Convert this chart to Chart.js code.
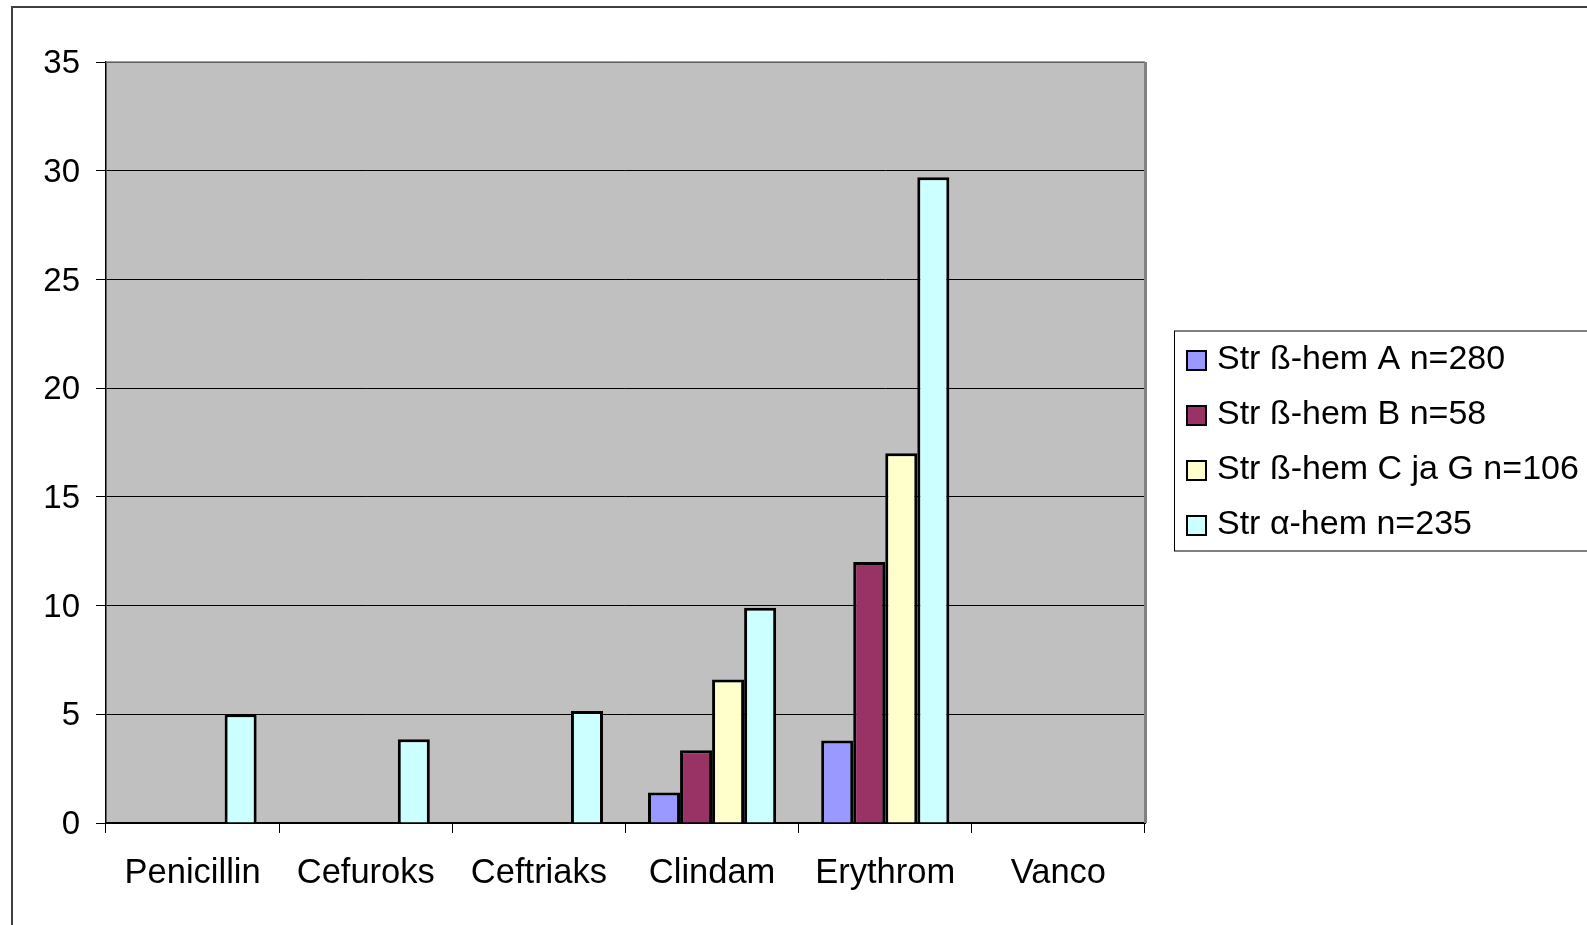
<!DOCTYPE html>
<html>
<head>
<meta charset="utf-8">
<script src="https://cdn.jsdelivr.net/npm/chart.js@4/dist/chart.umd.min.js"></script>
<style>
  html, body { margin: 0; padding: 0; background: #fff; }
  #wrap { width: 1587px; height: 925px; }
</style>
</head>
<body>
<div id="wrap"><canvas id="resChart" width="1587" height="925"></canvas></div>
<script>
var categories = ["Penicillin", "Cefuroks", "Ceftriaks", "Clindam", "Erythrom", "Vanco"];
var seriesNames = ["Str ß-hem A n=280", "Str ß-hem B n=58", "Str ß-hem C ja G n=106", "Str α-hem n=235"];
var groupA = [0, 0, 0, 1.4, 3.8, 0];
var groupB = [0, 0, 0, 3.35, 12.0, 0];
var groupCG = [0, 0, 0, 6.6, 17.0, 0];
var alphaHem = [5.0, 3.85, 5.15, 9.9, 29.7, 0];
var yTicks = [0, 5, 10, 15, 20, 25, 30, 35];
var colors = ["#9999FF", "#993366", "#FFFFCC", "#CCFFFF"];

var fontFam = "'Liberation Sans', Arial, sans-serif";

// grey plot background + outer frame
var backdrop = {
    id: 'backdrop',
    beforeDraw: function (chart) {
        var ctx = chart.ctx, a = chart.chartArea;
        ctx.save();
        ctx.strokeStyle = '#404040';
        ctx.lineWidth = 2;
        ctx.strokeRect(12, 7, 1700, 1000);
        ctx.fillStyle = '#C0C0C0';
        ctx.fillRect(a.left, a.top, a.right - a.left, a.bottom - a.top);
        ctx.restore();
    },
    afterDatasetsDraw: function (chart) {
        var ctx = chart.ctx, a = chart.chartArea;
        ctx.save();
        ctx.strokeStyle = '#808080';
        ctx.lineWidth = 1.5;
        ctx.beginPath();
        ctx.moveTo(a.left, a.top);
        ctx.lineTo(a.right, a.top);
        ctx.stroke();
        ctx.lineWidth = 3;
        ctx.beginPath();
        ctx.moveTo(a.right + 0.5, a.top);
        ctx.lineTo(a.right + 0.5, a.bottom);
        ctx.stroke();
        ctx.restore();
    }
};

// legend in a box, right of the plot
var boxedLegend = {
    id: 'boxedLegend',
    afterDraw: function (chart) {
        var ctx = chart.ctx, a = chart.chartArea;
        var ds = chart.data.datasets;
        var step = 55;
        var cy = (a.top + a.bottom) / 2 - 2;
        var x0 = a.right + 29;
        var top = cy - 110;
        ctx.save();
        ctx.strokeStyle = '#000';
        ctx.lineWidth = 1;
        ctx.strokeRect(x0 + 0.5, top + 0.5, 600, 220);
        ctx.font = '34px ' + fontFam;
        ctx.textBaseline = 'middle';
        ctx.textAlign = 'left';
        for (var i = 0; i < ds.length; i++) {
            var ry = cy - step * 1.5 + i * step + 2;
            ctx.fillStyle = ds[i].backgroundColor;
            ctx.fillRect(x0 + 13, ry - 9, 19, 19);
            ctx.strokeStyle = '#000';
            ctx.lineWidth = 2;
            ctx.strokeRect(x0 + 13, ry - 9, 19, 19);
            ctx.fillStyle = '#000';
            ctx.fillText(ds[i].label, x0 + 43, ry);
        }
        ctx.restore();
    }
};

var seriesData = [groupA, groupB, groupCG, alphaHem];
var datasets = [];
for (var i = 0; i < seriesNames.length; i++) {
    datasets.push({
        label: seriesNames[i],
        data: seriesData[i],
        backgroundColor: colors[i],
        borderColor: '#000',
        borderWidth: 3,
        categoryPercentage: 0.74,
        barPercentage: 1.0
    });
}

var resCanvas = document.getElementById('resChart');
var barChart = new Chart(resCanvas, {
    type: 'bar',
    data: {
        labels: categories,
        datasets: datasets
    },
    options: {
        responsive: false,
        animation: false,
        layout: { padding: { left: 0, top: 62, right: 442, bottom: 0 } },
        plugins: {
            legend: { display: false },
            tooltip: { enabled: false }
        },
        scales: {
            x: {
                afterFit: function (s) { s.height = 102; },
                grid: {
                    offset: true,
                    drawOnChartArea: false,
                    drawTicks: true,
                    tickLength: 10,
                    color: '#000',
                    lineWidth: 1
                },
                border: { display: true, color: '#000', width: 2 },
                ticks: {
                    color: '#000',
                    padding: 20,
                    font: { family: fontFam, size: 34.5 }
                }
            },
            y: {
                min: 0,
                max: 35,
                afterFit: function (s) { s.width = 106; },
                afterBuildTicks: function (s) {
                    s.ticks = yTicks.map(function (v) { return { value: v }; });
                },
                grid: {
                    color: '#000',
                    lineWidth: 1,
                    drawTicks: true,
                    tickLength: 10
                },
                border: { display: true, color: '#000', width: 1.5 },
                ticks: {
                    color: '#000',
                    padding: 16,
                    labelOffset: 2,
                    font: { family: fontFam, size: 33 }
                }
            }
        }
    },
    plugins: [backdrop, boxedLegend]
});
</script>
</body>
</html>
